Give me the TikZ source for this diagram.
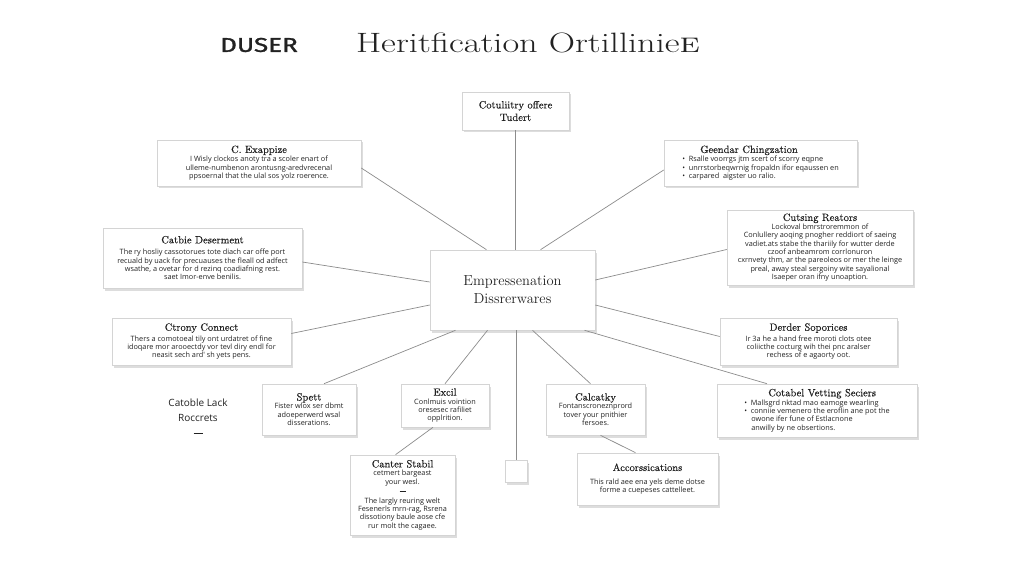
\documentclass[tikz,border=0pt]{standalone}
\usepackage{fontspec}
\usepackage{graphicx}
\usetikzlibrary{shadows,calc}
\newfontfamily\bodyfam{Open Sans}
\newfontfamily\headsans[FakeBold=1.3]{Fira Sans}
\newfontfamily\ttlfam[FakeBold=0.35]{lmroman10-regular.otf}
\definecolor{lnc}{HTML}{8C8C8C}
\definecolor{bdc}{HTML}{D4D4D4}
\definecolor{txc}{HTML}{222222}
\begin{document}
\begin{tikzpicture}[x=1pt,y=-1pt,
  bx/.style={draw=bdc, line width=0.6pt, fill=white, align=center, inner sep=2.5pt,
    text=txc, font=\fontsize{7.3}{8.4}\selectfont\bodyfam,
    drop shadow={shadow xshift=1.5pt, shadow yshift=-2.5pt, opacity=0.22, fill=black!60}},
  bxl/.style={bx, align=left},
  conn/.style={draw=lnc, line width=0.7pt}
]
\newcommand{\tf}{\fontsize{10.5}{12}\selectfont\ttlfam}
\useasboundingbox (0,0) rectangle (1024,585);
\fill[white] (0,0) rectangle (1024,585);

% titles
\node[text=txc, font=\fontsize{20}{24}\selectfont\headsans] (duser) at (259,45) {\scalebox{1.3}[1]{DUSER}};
\node[text=txc, font=\fontsize{28}{32}\selectfont\rmfamily] (title) at (528,43) {\scalebox{1.3}[1]{Heritfication Ortillinie{\scshape e}}};

% boxes
\node[bx, minimum width=107, minimum height=38, font=\fontsize{10.5}{12.5}\selectfont\ttlfam] (top) at (515.5,111) {Cotuliitry offere\\Tudert};
\node[bx, minimum width=165, minimum height=80, font=\fontsize{14.5}{18}\selectfont\rmfamily] (center) at (512.5,290) {Empressenation\\Dissrerwares};

\node[bx, minimum width=204, minimum height=46] (cexap) at (259,163)
 {{\tf C. Exappize}\\[0.5pt] I Wisly clockos anoty tra a scoler enart of\\ ulleme-numbenon arontusng-aredvrecenal\\ ppsoernal that the ulal sos yolz roerence.};

\node[bxl, minimum width=193, minimum height=46] (geend) at (760.5,163)
 {\hspace*{18pt}{\tf Geendar Chingzation}\\[0.5pt] •\ \ Rsalle voorrgs jtm scert of scorry eqpne\\ •\ \ unrrstorbeqwrnig fropaldn ifor eqaussen en\\ •\ \ carpared\ \ aigster uo ralio.};

\node[bx, minimum width=199, minimum height=60] (catbie) at (202.5,258)
 {{\tf Catbie Deserment}\\[3pt] The ry hosliy cassotorues tote diach car offe port\\ recuald by uack for precuauses the fleall od adfect\\ wsathe, a ovetar for d rezinq coadiafning rest.\\ saet Imor-enve benilis.};

\node[bx, minimum width=186, minimum height=75] (cutsing) at (820,247.5)
 {{\tf Cutsing Reators}\\ Lockoval bmrstroremmon of\\ Conlullery aoqing pnogher reddiort of saeing\\ vadiet.ats stabe the thariily for wutter derde\\ czoof anbeamrom corrlonuron\\ cxrnvety thm, ar the pareoleos or mer the leinge\\ preal, away steal sergoiny wite sayalional\\ Isaeper oran ifny unoaption.};

\node[bx, minimum width=179, minimum height=47] (ctrony) at (201.5,341.5)
 {{\tf Ctrony Connect}\\[2pt] Thers a comotoeal tily ont urdatret of fine\\ idoqare mor arooectdy vor tevl diry endl for\\ neasit sech ard' sh yets pens.};

\node[bx, minimum width=177, minimum height=47] (derder) at (808.5,341.5)
 {{\tf Derder Soporices}\\[2pt] Ir 3a he a hand free moroti clots otee\\ coliicthe cocturg wih thei pnc aralser\\ rechess of e agaorty oot.};

\node[text=txc, align=center, font=\fontsize{10}{15}\selectfont\bodyfam] (catoble) at (198,418)
 {Catoble Lack\\ Roccrets\\ \rule[3pt]{9pt}{0.5pt}};

\node[bx, minimum width=94, minimum height=51] (spett) at (309,409.5)
 {{\tf Spett}\\ Fister wlox ser dbmt\\ adoeperwerd wsal\\ disserations.};

\node[bx, minimum width=88, minimum height=43] (excil) at (445,405.5)
 {{\tf Excil}\\ Conlmuis vointion\\ oresesec rafiliet\\ opplrition.};

\node[bx, minimum width=99, minimum height=51] (calc) at (595.5,409.5)
 {{\tf Calcatky}\\ Fontanscroneznprord\\ tover your pnithier\\ fersoes.};

\node[bxl, minimum width=200, minimum height=53] (cotabel) at (817,410.5)
 {\hspace*{24pt}{\tf Cotabel Vetting Seciers}\\[0.5pt] •\ \ Mallsgrd nktad mao eamoge wearling\\ •\ \ conniie vemenero the eroflin ane pot the\\ \hspace*{7pt}owone ifer fune of Estlacnone\\ \hspace*{7pt}anwilly by ne obsertions.};

\node[bx, minimum width=105, minimum height=80] (cstab) at (402.5,495)
 {{\tf Canter Stabil}\\ cetmert bargeast\\ your wesl.\\[1pt] \rule[2pt]{6pt}{0.4pt}\\[1pt] The largly reuring welt\\ Fesenerls mrn-rag, Rsrena\\ dissotiony baule aose cfe\\ rur molt the cagaee.};

\node[bx, minimum width=22, minimum height=22, inner sep=0pt] (small) at (516,471) {};

\node[bx, minimum width=141, minimum height=52] (accors) at (647.5,479)
 {{\tf Accorssications}\\[5pt] This rald aee ena yels deme dotse\\ forme a cuepeses cattelleet.};

% connectors
\draw[conn] (top.south) -- (center.north -| top.south);
\draw[conn] ($(cexap.east)+(0,5)$) -- ($(center.north)+(-26,0)$);
\draw[conn] ($(geend.west)+(0,7)$) -- ($(center.north)+(28,0)$);
\draw[conn] ($(catbie.east)+(0,4)$) -- ($(center.west)+(0,-8)$);
\draw[conn] ($(cutsing.west)+(0,2)$) -- ($(center.east)+(0,-10)$);
\draw[conn] ($(ctrony.east)+(0,-8)$) -- ($(center.west)+(0,15)$);
\draw[conn] ($(derder.west)+(0,-5)$) -- ($(center.east)+(0,15)$);
\draw[conn] ($(spett.north)+(15,0)$) -- ($(center.south)+(-57,0)$);
\draw[conn] (excil.north) -- ($(center.south)+(-25,0)$);
\draw[conn] ($(calc.north)+(-5,0)$) -- ($(center.south)+(20,0)$);
\draw[conn] ($(cotabel.north)+(-50,0)$) -- ($(center.south)+(72,0)$);
\draw[conn] (center.south -| small.north) -- (small.north);
\draw[conn] ($(excil.south)+(-12,0)$) -- ($(cstab.north)+(-7,0)$);
\draw[conn] ($(calc.south)+(5,0)$) -- ($(accors.north)+(-12,0)$);
\end{tikzpicture}
\end{document}
